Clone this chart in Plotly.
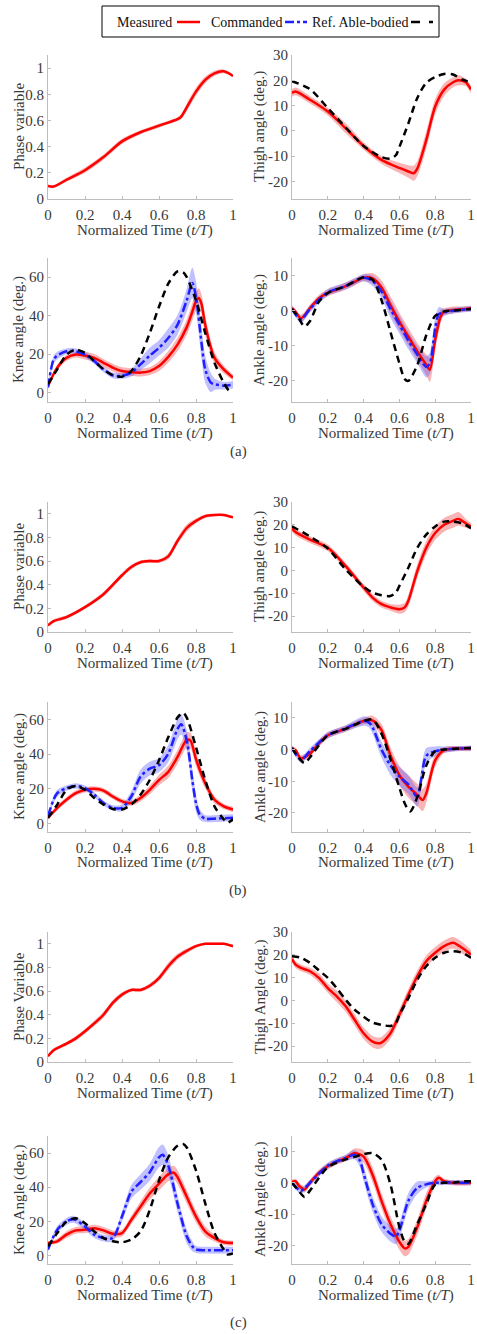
import plotly.graph_objects as go

W, H = 477, 1334
FONT = "Liberation Serif, Times New Roman, serif"
TXT = "#383838"

# ---------------- Panel (a) ----------------
a_phase_t = [0, 0.03, 0.1, 0.2, 0.3, 0.4, 0.5, 0.6, 0.7, 0.72, 0.75, 0.8, 0.85, 0.9, 0.95, 1.0]
a_phase_meas = [0.10, 0.095, 0.147, 0.22, 0.32, 0.44, 0.51, 0.56, 0.61, 0.63, 0.70, 0.82, 0.91, 0.96, 0.975, 0.94]
a_phase_sd = [0.01, 0.01, 0.015, 0.02, 0.02, 0.02, 0.015, 0.015, 0.015, 0.02, 0.03, 0.03, 0.025, 0.02, 0.015, 0.01]

a_thigh_t = [0, 0.02, 0.1, 0.2, 0.3, 0.4, 0.5, 0.6, 0.65, 0.68, 0.7, 0.75, 0.8, 0.85, 0.9, 0.93, 0.97, 1.0]
a_thigh_meas = [15, 15.6, 12.3, 7.6, 1, -6, -11.5, -14.7, -16.1, -16.8, -15, -3.7, 9.6, 16.3, 19.2, 20, 19.2, 16.3]
a_thigh_sd = [1.5, 1.5, 1.5, 1.5, 2, 1.5, 1.5, 2, 2.5, 3, 3, 3.5, 3, 2.5, 2, 2, 1.5, 1.5]
a_thigh_ref_t = [0, 0.1, 0.2, 0.3, 0.4, 0.5, 0.55, 0.58, 0.6, 0.65, 0.7, 0.75, 0.8, 0.85, 0.9, 0.95, 1.0]
a_thigh_ref = [19.6, 16.5, 9, 1.3, -6, -10.4, -11, -9.7, -6.4, 2.9, 13, 19, 21.3, 22.5, 22.3, 20.3, 19.2]

a_knee_t = [0, 0.05, 0.1, 0.15, 0.2, 0.25, 0.3, 0.35, 0.4, 0.45, 0.5, 0.55, 0.6, 0.65, 0.7, 0.75, 0.78, 0.8, 0.815, 0.83, 0.85, 0.9, 0.95, 1.0]
a_knee_meas = [3.4, 12.9, 18, 19.7, 19.2, 18, 15.4, 12.9, 11.1, 10.6, 10.3, 11.1, 13.7, 18.5, 24.9, 34, 42, 47.5, 49.2, 46, 35, 18, 12, 7.7]
a_knee_meas_sd = [1, 1.5, 1.5, 1.5, 2, 2, 2, 2, 2, 2, 2, 2, 2.5, 3, 3.5, 4, 4.5, 5, 5, 5, 5, 3, 2, 1.5]
a_knee_cmd_t = [0, 0.03, 0.05, 0.1, 0.15, 0.2, 0.25, 0.3, 0.35, 0.4, 0.45, 0.5, 0.55, 0.6, 0.65, 0.7, 0.75, 0.78, 0.8, 0.83, 0.85, 0.88, 0.9, 0.95, 1.0]
a_knee_cmd = [2.6, 17, 19.2, 21.4, 21.4, 19.7, 16.3, 12, 8.9, 8.6, 10.3, 14.6, 19.2, 23.2, 28.3, 35.2, 48, 57, 49.7, 25.7, 12, 5.1, 4.3, 3.5, 4]
a_knee_cmd_sd = [1, 2, 2, 1.5, 1.5, 1.5, 1.5, 1.5, 1.5, 1.5, 2, 3, 4, 4, 5, 5, 6, 8, 8, 8, 7, 5, 3, 2, 2]
a_knee_ref_t = [0, 0.05, 0.1, 0.15, 0.2, 0.25, 0.3, 0.35, 0.4, 0.45, 0.5, 0.55, 0.6, 0.65, 0.7, 0.73, 0.75, 0.8, 0.85, 0.9, 0.95, 0.98, 1.0]
a_knee_ref = [4.3, 12, 19.7, 22.3, 20.6, 16.3, 12, 8.9, 8.2, 11.1, 18.9, 30.9, 44.6, 56.6, 63, 62.6, 60, 48, 30.9, 15.4, 5.1, 0.9, 1.7]

a_ankle_t = [0, 0.02, 0.05, 0.1, 0.15, 0.2, 0.25, 0.3, 0.35, 0.4, 0.45, 0.5, 0.55, 0.6, 0.65, 0.7, 0.75, 0.77, 0.8, 0.83, 0.85, 0.9, 0.95, 1.0]
a_ankle_meas = [0.7, -0.3, -2.2, 0.7, 3.5, 5.1, 6, 7, 8.2, 9.4, 9.2, 6.6, 1.6, -3.1, -7.4, -11.6, -15.4, -16.8, -8.3, -1.7, -0.3, 0.2, 0.4, 0.7]
a_ankle_meas_sd = [0.8, 0.8, 1, 1, 1, 1, 1, 1, 1, 1, 1.5, 2, 2.5, 2.5, 2.5, 2.5, 3, 3.5, 3, 2, 1, 1, 0.8, 0.8]
a_ankle_cmd_t = [0, 0.05, 0.1, 0.2, 0.3, 0.4, 0.45, 0.5, 0.55, 0.6, 0.65, 0.7, 0.75, 0.77, 0.8, 0.82, 0.85, 0.9, 1.0]
a_ankle_cmd = [0.5, -2.5, 0.5, 5.2, 7, 9.4, 8.5, 5.5, 0.5, -4, -8.5, -12.5, -16, -15, -5, -1, -0.5, 0, 0.5]
a_ankle_cmd_sd = [0.8, 1, 1, 1, 1, 1, 1.5, 2, 2.5, 2.5, 2.5, 2.5, 3, 3, 3, 2, 1, 0.8, 0.8]
a_ankle_ref_t = [0, 0.03, 0.07, 0.1, 0.15, 0.2, 0.3, 0.4, 0.45, 0.5, 0.55, 0.6, 0.63, 0.65, 0.7, 0.75, 0.8, 0.85, 0.9, 1.0]
a_ankle_ref = [0.5, -1.5, -4.5, -3, 2.5, 5, 7, 9.5, 8.8, 3, -6, -15, -19.5, -20, -15.5, -7, -1.5, -0.2, 0, 0.5]

# ---------------- Panel (b) ----------------
b_phase_t = [0, 0.03, 0.1, 0.2, 0.3, 0.4, 0.45, 0.5, 0.55, 0.6, 0.65, 0.7, 0.75, 0.8, 0.85, 0.9, 0.95, 1.0]
b_phase_meas = [0.056, 0.092, 0.126, 0.21, 0.32, 0.48, 0.55, 0.59, 0.60, 0.60, 0.64, 0.77, 0.88, 0.94, 0.98, 0.99, 0.99, 0.97]
b_phase_sd = [0.01, 0.015, 0.015, 0.015, 0.02, 0.02, 0.02, 0.015, 0.015, 0.015, 0.025, 0.03, 0.03, 0.02, 0.015, 0.01, 0.01, 0.01]

b_thigh_t = [0, 0.02, 0.1, 0.2, 0.3, 0.4, 0.45, 0.5, 0.55, 0.6, 0.63, 0.65, 0.7, 0.75, 0.8, 0.85, 0.9, 0.93, 0.97, 1.0]
b_thigh_meas = [18.5, 16.8, 13.5, 9.9, 1.9, -7.5, -11.9, -14.8, -16.2, -17, -16.2, -13.3, -0.3, 9.9, 16.4, 20, 21.7, 22.6, 20.7, 19.3]
b_thigh_sd = [1.5, 1.5, 1.5, 1.5, 1.5, 1.5, 1.5, 1.5, 1.5, 2, 2, 2.5, 3, 3, 3, 3, 3, 3, 2, 1.5]
b_thigh_ref_t = [0, 0.1, 0.2, 0.3, 0.4, 0.45, 0.5, 0.55, 0.58, 0.6, 0.65, 0.7, 0.75, 0.8, 0.85, 0.9, 0.95, 1.0]
b_thigh_ref = [19.3, 14.9, 9.6, 0.4, -7.2, -9.7, -10.9, -11.2, -9.7, -6.8, 1.2, 9.9, 15.7, 19.3, 21.4, 21.4, 20.7, 18.5]

b_knee_t = [0, 0.05, 0.1, 0.15, 0.2, 0.25, 0.3, 0.35, 0.4, 0.45, 0.5, 0.55, 0.6, 0.65, 0.7, 0.75, 0.77, 0.8, 0.85, 0.9, 0.95, 1.0]
b_knee_meas = [3.2, 8.9, 13.6, 17.4, 19.3, 19.9, 18.9, 15.5, 12.7, 11.7, 14.6, 19.3, 25, 29.7, 38.3, 48.1, 47.7, 37, 23.1, 13.6, 9.8, 8]
b_knee_meas_sd = [1, 1.5, 1.5, 1.5, 1.5, 1.5, 1.5, 1.5, 1.5, 1.5, 2, 2.5, 3, 3.5, 4, 4.5, 4.5, 4, 3, 2, 1.5, 1.5]
b_knee_cmd_t = [0, 0.03, 0.05, 0.1, 0.15, 0.2, 0.25, 0.3, 0.35, 0.4, 0.45, 0.5, 0.55, 0.6, 0.65, 0.7, 0.72, 0.75, 0.78, 0.8, 0.82, 0.85, 0.9, 1.0]
b_knee_cmd = [4.2, 13.6, 17.4, 20.3, 21.6, 20.3, 16.5, 11.7, 8.9, 8.9, 15.5, 26.9, 31.6, 33.5, 40.2, 54.4, 57.2, 47.7, 25, 11.7, 5.1, 2.7, 2.7, 3.2]
b_knee_cmd_sd = [1, 2, 2, 1.5, 1.5, 1.5, 1.5, 1.5, 1.5, 2, 3, 4, 4, 4, 5, 6, 6, 6, 6, 5, 3, 2, 2, 2]
b_knee_ref_t = [0, 0.05, 0.1, 0.15, 0.2, 0.25, 0.3, 0.35, 0.4, 0.45, 0.5, 0.55, 0.6, 0.65, 0.7, 0.73, 0.75, 0.8, 0.85, 0.9, 0.95, 0.97, 1.0]
b_knee_ref = [3.2, 10.8, 19.3, 21.6, 19.3, 14.6, 10.8, 8.3, 8, 10.8, 16.5, 25, 36.4, 49.6, 61, 63.8, 61, 43.9, 25, 9.8, 2.3, 0.4, 2.3]

b_ankle_t = [0, 0.02, 0.05, 0.1, 0.15, 0.2, 0.3, 0.4, 0.45, 0.5, 0.55, 0.6, 0.65, 0.7, 0.73, 0.75, 0.8, 0.85, 0.9, 1.0]
b_ankle_meas = [0.3, -0.2, -2.8, -1.3, 1.9, 4.5, 6.6, 9, 9.2, 6.1, -1.8, -8.1, -11.7, -14.3, -15.9, -13.8, -3.4, -0.2, 0.3, 0.3]
b_ankle_meas_sd = [0.8, 0.8, 1, 1, 1, 1, 1, 1, 1.5, 2, 2.5, 3, 3.5, 3.5, 3.5, 3, 2, 1, 0.8, 0.8]
b_ankle_cmd_t = [0, 0.05, 0.1, 0.2, 0.3, 0.4, 0.43, 0.45, 0.5, 0.55, 0.6, 0.65, 0.7, 0.72, 0.75, 0.8, 0.85, 1.0]
b_ankle_cmd = [0.5, -3.2, -0.5, 4.5, 6.7, 9, 8.5, 7, 0, -5, -8.5, -11, -15, -10, -2, -0.5, 0, 0.5]
b_ankle_cmd_sd = [0.8, 1, 1, 1, 1, 1.5, 1.5, 2, 2.5, 3, 3, 3, 3, 3, 2.5, 1.5, 1, 0.8]
b_ankle_ref_t = [0, 0.03, 0.07, 0.1, 0.2, 0.3, 0.4, 0.45, 0.5, 0.55, 0.6, 0.63, 0.66, 0.7, 0.75, 0.8, 0.85, 1.0]
b_ankle_ref = [0.5, -2, -4.3, -2.5, 4.5, 6.5, 9, 9.5, 5, -3, -12, -17, -19.5, -15, -5, -0.5, 0, 0.5]

# ---------------- Panel (c) ----------------
c_phase_t = [0, 0.03, 0.1, 0.15, 0.2, 0.3, 0.35, 0.4, 0.45, 0.5, 0.55, 0.6, 0.65, 0.7, 0.75, 0.8, 0.85, 0.9, 0.95, 1.0]
c_phase_meas = [0.048, 0.10, 0.155, 0.2, 0.26, 0.40, 0.50, 0.57, 0.61, 0.61, 0.645, 0.71, 0.81, 0.89, 0.94, 0.98, 1.0, 1.0, 1.0, 0.98]
c_phase_sd = [0.01, 0.015, 0.015, 0.02, 0.02, 0.025, 0.025, 0.02, 0.015, 0.015, 0.02, 0.025, 0.03, 0.025, 0.02, 0.015, 0.01, 0.01, 0.01, 0.01]

c_thigh_t = [0, 0.02, 0.05, 0.1, 0.15, 0.2, 0.25, 0.3, 0.35, 0.4, 0.45, 0.48, 0.5, 0.55, 0.6, 0.65, 0.7, 0.75, 0.8, 0.85, 0.9, 0.95, 1.0]
c_thigh_meas = [18.2, 15.7, 14.3, 12.8, 9.9, 5.4, 1.8, -2.6, -8.5, -14.4, -18.1, -18.8, -18.5, -14.4, -6.3, 2.5, 10.6, 17.2, 20.9, 23.8, 25.3, 23.1, 20.1]
c_thigh_sd = [1.5, 1.5, 1.5, 1.5, 2, 2, 2.5, 2.5, 2.5, 2.5, 2.5, 2.5, 2.5, 2.5, 2.5, 2.5, 2.5, 2.5, 2.5, 2.5, 2.5, 2.5, 2]
c_thigh_ref_t = [0, 0.05, 0.1, 0.15, 0.2, 0.25, 0.3, 0.35, 0.4, 0.45, 0.5, 0.55, 0.58, 0.6, 0.65, 0.7, 0.75, 0.8, 0.85, 0.9, 0.95, 1.0]
c_thigh_ref = [19.4, 18.7, 16.5, 13.2, 9.9, 5.4, 0.3, -4.1, -7.1, -9.7, -10.7, -11.2, -10, -6.3, 1, 9.1, 15, 18.7, 20.9, 21.6, 20.9, 18.7]

c_knee_t = [0, 0.05, 0.1, 0.15, 0.2, 0.25, 0.3, 0.35, 0.4, 0.45, 0.5, 0.55, 0.6, 0.65, 0.68, 0.7, 0.75, 0.8, 0.85, 0.9, 0.95, 1.0]
c_knee_meas = [7.3, 8.3, 12.2, 14.7, 15.1, 16, 14.7, 12.7, 13.1, 20.8, 28.6, 36.3, 42.1, 47.5, 48.5, 45.9, 34.4, 22.8, 14.1, 10.2, 7.7, 7.3]
c_knee_meas_sd = [1, 1.5, 2, 2, 2, 2, 2, 2, 2, 2.5, 3, 3.5, 4, 4, 4, 4, 4, 3.5, 3, 2, 1.5, 1.5]
c_knee_cmd_t = [0, 0.05, 0.1, 0.13, 0.15, 0.2, 0.25, 0.3, 0.35, 0.4, 0.45, 0.5, 0.55, 0.6, 0.62, 0.65, 0.7, 0.75, 0.78, 0.8, 0.85, 1.0]
c_knee_cmd = [3.5, 15.1, 19.9, 21.2, 20.8, 17, 12.2, 10.2, 10.2, 22.8, 37.3, 43, 48.8, 57.5, 59, 52.7, 30.5, 11.2, 5.4, 3.5, 3.1, 3.1]
c_knee_cmd_sd = [1, 2, 2, 2, 2, 2, 2, 2, 2, 3, 4, 4.5, 5, 6, 6, 6, 5, 4, 3, 2, 2, 2]
c_knee_ref_t = [0, 0.05, 0.1, 0.15, 0.2, 0.25, 0.3, 0.35, 0.4, 0.45, 0.5, 0.55, 0.6, 0.65, 0.7, 0.73, 0.75, 0.8, 0.85, 0.9, 0.95, 0.97, 1.0]
c_knee_ref = [5.4, 13.1, 19.9, 21.8, 18.9, 14.1, 10.2, 8.3, 7.7, 9.3, 14.1, 26.6, 44, 57.5, 64.3, 65.3, 63.3, 49.8, 30.5, 13.1, 3.5, 0.6, 1.2]

c_ankle_t = [0, 0.02, 0.04, 0.07, 0.1, 0.15, 0.2, 0.25, 0.3, 0.35, 0.4, 0.45, 0.5, 0.55, 0.6, 0.63, 0.65, 0.7, 0.75, 0.8, 0.82, 0.85, 0.9, 1.0]
c_ankle_meas = [0.3, 0.5, -1, -2.1, 0, 3.2, 5.3, 6.8, 7.9, 9.5, 8.4, 2.6, -5.8, -13.2, -18.9, -21, -20.5, -14.2, -5.8, 0.5, 1.6, 0.5, 0, 0]
c_ankle_meas_sd = [0.8, 0.8, 1, 1, 1, 1, 1, 1, 1, 1.5, 2, 2.5, 2.5, 2.5, 2.5, 2.5, 2.5, 2.5, 2.5, 1.5, 1, 0.8, 0.8, 0.8]
c_ankle_cmd_t = [0, 0.05, 0.1, 0.2, 0.3, 0.35, 0.38, 0.4, 0.45, 0.5, 0.55, 0.58, 0.6, 0.65, 0.7, 0.75, 0.8, 1.0]
c_ankle_cmd = [0, -2.5, 0, 5.5, 8, 9, 7, 3, -6.8, -13.2, -16.3, -17.2, -15.3, -5.8, -1.6, -0.5, 0, 0]
c_ankle_cmd_sd = [0.8, 1, 1, 1, 1, 1.5, 2, 2.5, 2.5, 2.5, 2.5, 2.5, 2.5, 2.5, 2, 1, 0.8, 0.8]
c_ankle_ref_t = [0, 0.03, 0.07, 0.1, 0.2, 0.3, 0.35, 0.4, 0.45, 0.5, 0.55, 0.6, 0.63, 0.65, 0.7, 0.75, 0.8, 0.85, 0.9, 0.95, 1.0]
c_ankle_ref = [0, -2, -4.5, -2.5, 5, 7.5, 8.3, 9.2, 9.5, 7.4, -0.5, -14.2, -18.9, -19.5, -13.2, -6.8, -0.5, 0, 0, 0.5, 0.5]

# ---------------- Axis labels / ticks ----------------
x_ticks = [0, 0.2, 0.4, 0.6, 0.8, 1]
x_ticktext = ["0", "0.2", "0.4", "0.6", "0.8", "1"]
x_title = "Normalized Time (<i>t/T</i>)"
phase_ticks = [0, 0.2, 0.4, 0.6, 0.8, 1]
phase_ticktext = ["0", "0.2", "0.4", "0.6", "0.8", "1"]
thigh_ticks = [-20, -10, 0, 10, 20, 30]
knee_ticks = [0, 20, 40, 60]
ankle_ticks = [-20, -10, 0, 10]
titles_ab = ["Phase variable", "Thigh angle (deg.)", "Knee angle (deg.)", "Ankle angle (deg.)"]
titles_c = ["Phase Variable", "Thigh Angle (deg.)", "Knee Angle (deg.)", "Ankle Angle (deg.)"]
panel_labels = ["(a)", "(b)", "(c)"]
legend_names = ["Measured", "Commanded", "Ref. Able-bodied"]

RED, RED_BAND = "#ff0000", "rgba(240,60,60,0.38)"
BLUE, BLUE_BAND = "#1f1fff", "rgba(90,90,255,0.38)"
BLACK = "#000000"

# layout in pixels
LEFT_X = (48, 233)
RIGHT_X = (292, 471)
ROWS = [(55, 199), (258, 402), (502, 632), (702, 832), (932, 1062), (1136, 1264)]
PANEL_LABEL_Y = [452, 891, 1322]

def fx(p):
    return p / W

def fy(p):
    return 1 - p / H

fig = go.Figure()

def band(t, v, sd, color, k):
    assert len(t) == len(v) == len(sd), (len(t), len(v), len(sd))
    up = [a + b for a, b in zip(v, sd)]
    lo = [a - b for a, b in zip(v, sd)]
    ax = dict(xaxis="x%d" % k, yaxis="y%d" % k)
    fig.add_trace(go.Scatter(x=t, y=up, mode="lines", line=dict(width=0, shape="spline", smoothing=0.8),
                             hoverinfo="skip", showlegend=False, **ax))
    fig.add_trace(go.Scatter(x=t, y=lo, mode="lines", line=dict(width=0, shape="spline", smoothing=0.8),
                             fill="tonexty", fillcolor=color, hoverinfo="skip", showlegend=False, **ax))

def line(t, v, color, dash, k, name):
    assert len(t) == len(v), (len(t), len(v))
    fig.add_trace(go.Scatter(x=t, y=v, mode="lines", name=name,
                             line=dict(color=color, width=2.5, dash=dash, shape="spline", smoothing=0.8),
                             showlegend=False, xaxis="x%d" % k, yaxis="y%d" % k))

subplots = [
    ((a_phase_t, a_phase_meas, a_phase_sd), None, None),
    ((a_thigh_t, a_thigh_meas, a_thigh_sd), None, (a_thigh_ref_t, a_thigh_ref)),
    ((a_knee_t, a_knee_meas, a_knee_meas_sd), (a_knee_cmd_t, a_knee_cmd, a_knee_cmd_sd), (a_knee_ref_t, a_knee_ref)),
    ((a_ankle_t, a_ankle_meas, a_ankle_meas_sd), (a_ankle_cmd_t, a_ankle_cmd, a_ankle_cmd_sd), (a_ankle_ref_t, a_ankle_ref)),
    ((b_phase_t, b_phase_meas, b_phase_sd), None, None),
    ((b_thigh_t, b_thigh_meas, b_thigh_sd), None, (b_thigh_ref_t, b_thigh_ref)),
    ((b_knee_t, b_knee_meas, b_knee_meas_sd), (b_knee_cmd_t, b_knee_cmd, b_knee_cmd_sd), (b_knee_ref_t, b_knee_ref)),
    ((b_ankle_t, b_ankle_meas, b_ankle_meas_sd), (b_ankle_cmd_t, b_ankle_cmd, b_ankle_cmd_sd), (b_ankle_ref_t, b_ankle_ref)),
    ((c_phase_t, c_phase_meas, c_phase_sd), None, None),
    ((c_thigh_t, c_thigh_meas, c_thigh_sd), None, (c_thigh_ref_t, c_thigh_ref)),
    ((c_knee_t, c_knee_meas, c_knee_meas_sd), (c_knee_cmd_t, c_knee_cmd, c_knee_cmd_sd), (c_knee_ref_t, c_knee_ref)),
    ((c_ankle_t, c_ankle_meas, c_ankle_meas_sd), (c_ankle_cmd_t, c_ankle_cmd, c_ankle_cmd_sd), (c_ankle_ref_t, c_ankle_ref)),
]

yspecs = [
    ([0, 1.1], phase_ticks, phase_ticktext),
    ([-27, 30], thigh_ticks, [str(v) for v in thigh_ticks]),
    ([-5, 70], knee_ticks, [str(v) for v in knee_ticks]),
    ([-26, 15], ankle_ticks, [str(v) for v in ankle_ticks]),
]

axis_common = dict(showline=True, linecolor="#bdbdbd", linewidth=1, ticks="inside", ticklen=3,
                   tickcolor="#bdbdbd", showgrid=False, zeroline=False, automargin=False,
                   tickfont=dict(family=FONT, size=15, color=TXT))

annotations = []
layout = {}
for i, (meas, cmd, ref) in enumerate(subplots):
    k = i + 1
    joint = i % 4
    panel = i // 4
    row = ROWS[panel * 2 + joint // 2]
    xd = LEFT_X if joint % 2 == 0 else RIGHT_X
    band(meas[0], meas[1], meas[2], RED_BAND, k)
    if cmd is not None:
        band(cmd[0], cmd[1], cmd[2], BLUE_BAND, k)
    line(meas[0], meas[1], RED, "solid", k, legend_names[0])
    if cmd is not None:
        line(cmd[0], cmd[1], BLUE, "dashdot", k, legend_names[1])
    if ref is not None:
        line(ref[0], ref[1], BLACK, "7px,5px", k, legend_names[2])

    yr, yt, ytt = yspecs[joint]
    layout["xaxis%d" % k] = dict(domain=[fx(xd[0]), fx(xd[1])], range=[0, 1], tickvals=x_ticks,
                                 ticktext=x_ticktext, anchor="y%d" % k, ticklabelstandoff=2,
                                 ticklabeloverflow="allow", **axis_common)
    layout["yaxis%d" % k] = dict(domain=[fy(row[1]), fy(row[0])], range=yr, tickvals=yt, ticktext=ytt,
                                 anchor="x%d" % k, **axis_common)
    annotations.append(dict(text=x_title, xref="paper", yref="paper", x=fx((xd[0] + xd[1]) / 2 + 4),
                            y=fy(row[1] + 31), xanchor="center", yanchor="middle", showarrow=False,
                            font=dict(family=FONT, size=15, color=TXT)))
    ttl = (titles_c if panel == 2 else titles_ab)[joint]
    annotations.append(dict(text=ttl, xref="paper", yref="paper",
                            x=fx(19 if joint % 2 == 0 else 260), y=fy((row[0] + row[1]) / 2),
                            xanchor="center", yanchor="middle", textangle=-90, showarrow=False,
                            font=dict(family=FONT, size=15, color=TXT)))

for lab, py in zip(panel_labels, PANEL_LABEL_Y):
    annotations.append(dict(text=lab, xref="paper", yref="paper", x=fx(238), y=fy(py),
                            xanchor="center", yanchor="middle", showarrow=False,
                            font=dict(family=FONT, size=15, color=TXT)))

# legend (text followed by line sample, as in the original)
leg_y = 22
leg_text_x = [115, 209, 310]
leg_line_x = [(177, 200), (285, 307), (411, 433)]
leg_styles = [(RED, "solid"), (BLUE, "dashdot"), (BLACK, "dash")]
shapes = [dict(type="rect", xref="paper", yref="paper", x0=fx(102), x1=fx(439), y0=fy(37), y1=fy(6),
               line=dict(color="#000000", width=1), fillcolor="rgba(0,0,0,0)")]
for name, tx, (x0, x1), (col, dash) in zip(legend_names, leg_text_x, leg_line_x, leg_styles):
    annotations.append(dict(text=name, xref="paper", yref="paper", x=fx(tx), y=fy(leg_y),
                            xanchor="left", yanchor="middle", showarrow=False,
                            font=dict(family=FONT, size=14, color="#111111")))
    shapes.append(dict(type="line", xref="paper", yref="paper", x0=fx(x0), x1=fx(x1), y0=fy(leg_y),
                       y1=fy(leg_y), line=dict(color=col, width=2.5, dash=dash)))

fig.update_layout(width=W, height=H, margin=dict(l=0, r=0, t=0, b=0), paper_bgcolor="white",
                  plot_bgcolor="white", showlegend=False, annotations=annotations, shapes=shapes,
                  font=dict(family=FONT, color=TXT), **layout)

fig.write_html("out.html", config={"displayModeBar": False},
               post_script="document.body.style.margin='0px';document.body.style.overflow='hidden';")
